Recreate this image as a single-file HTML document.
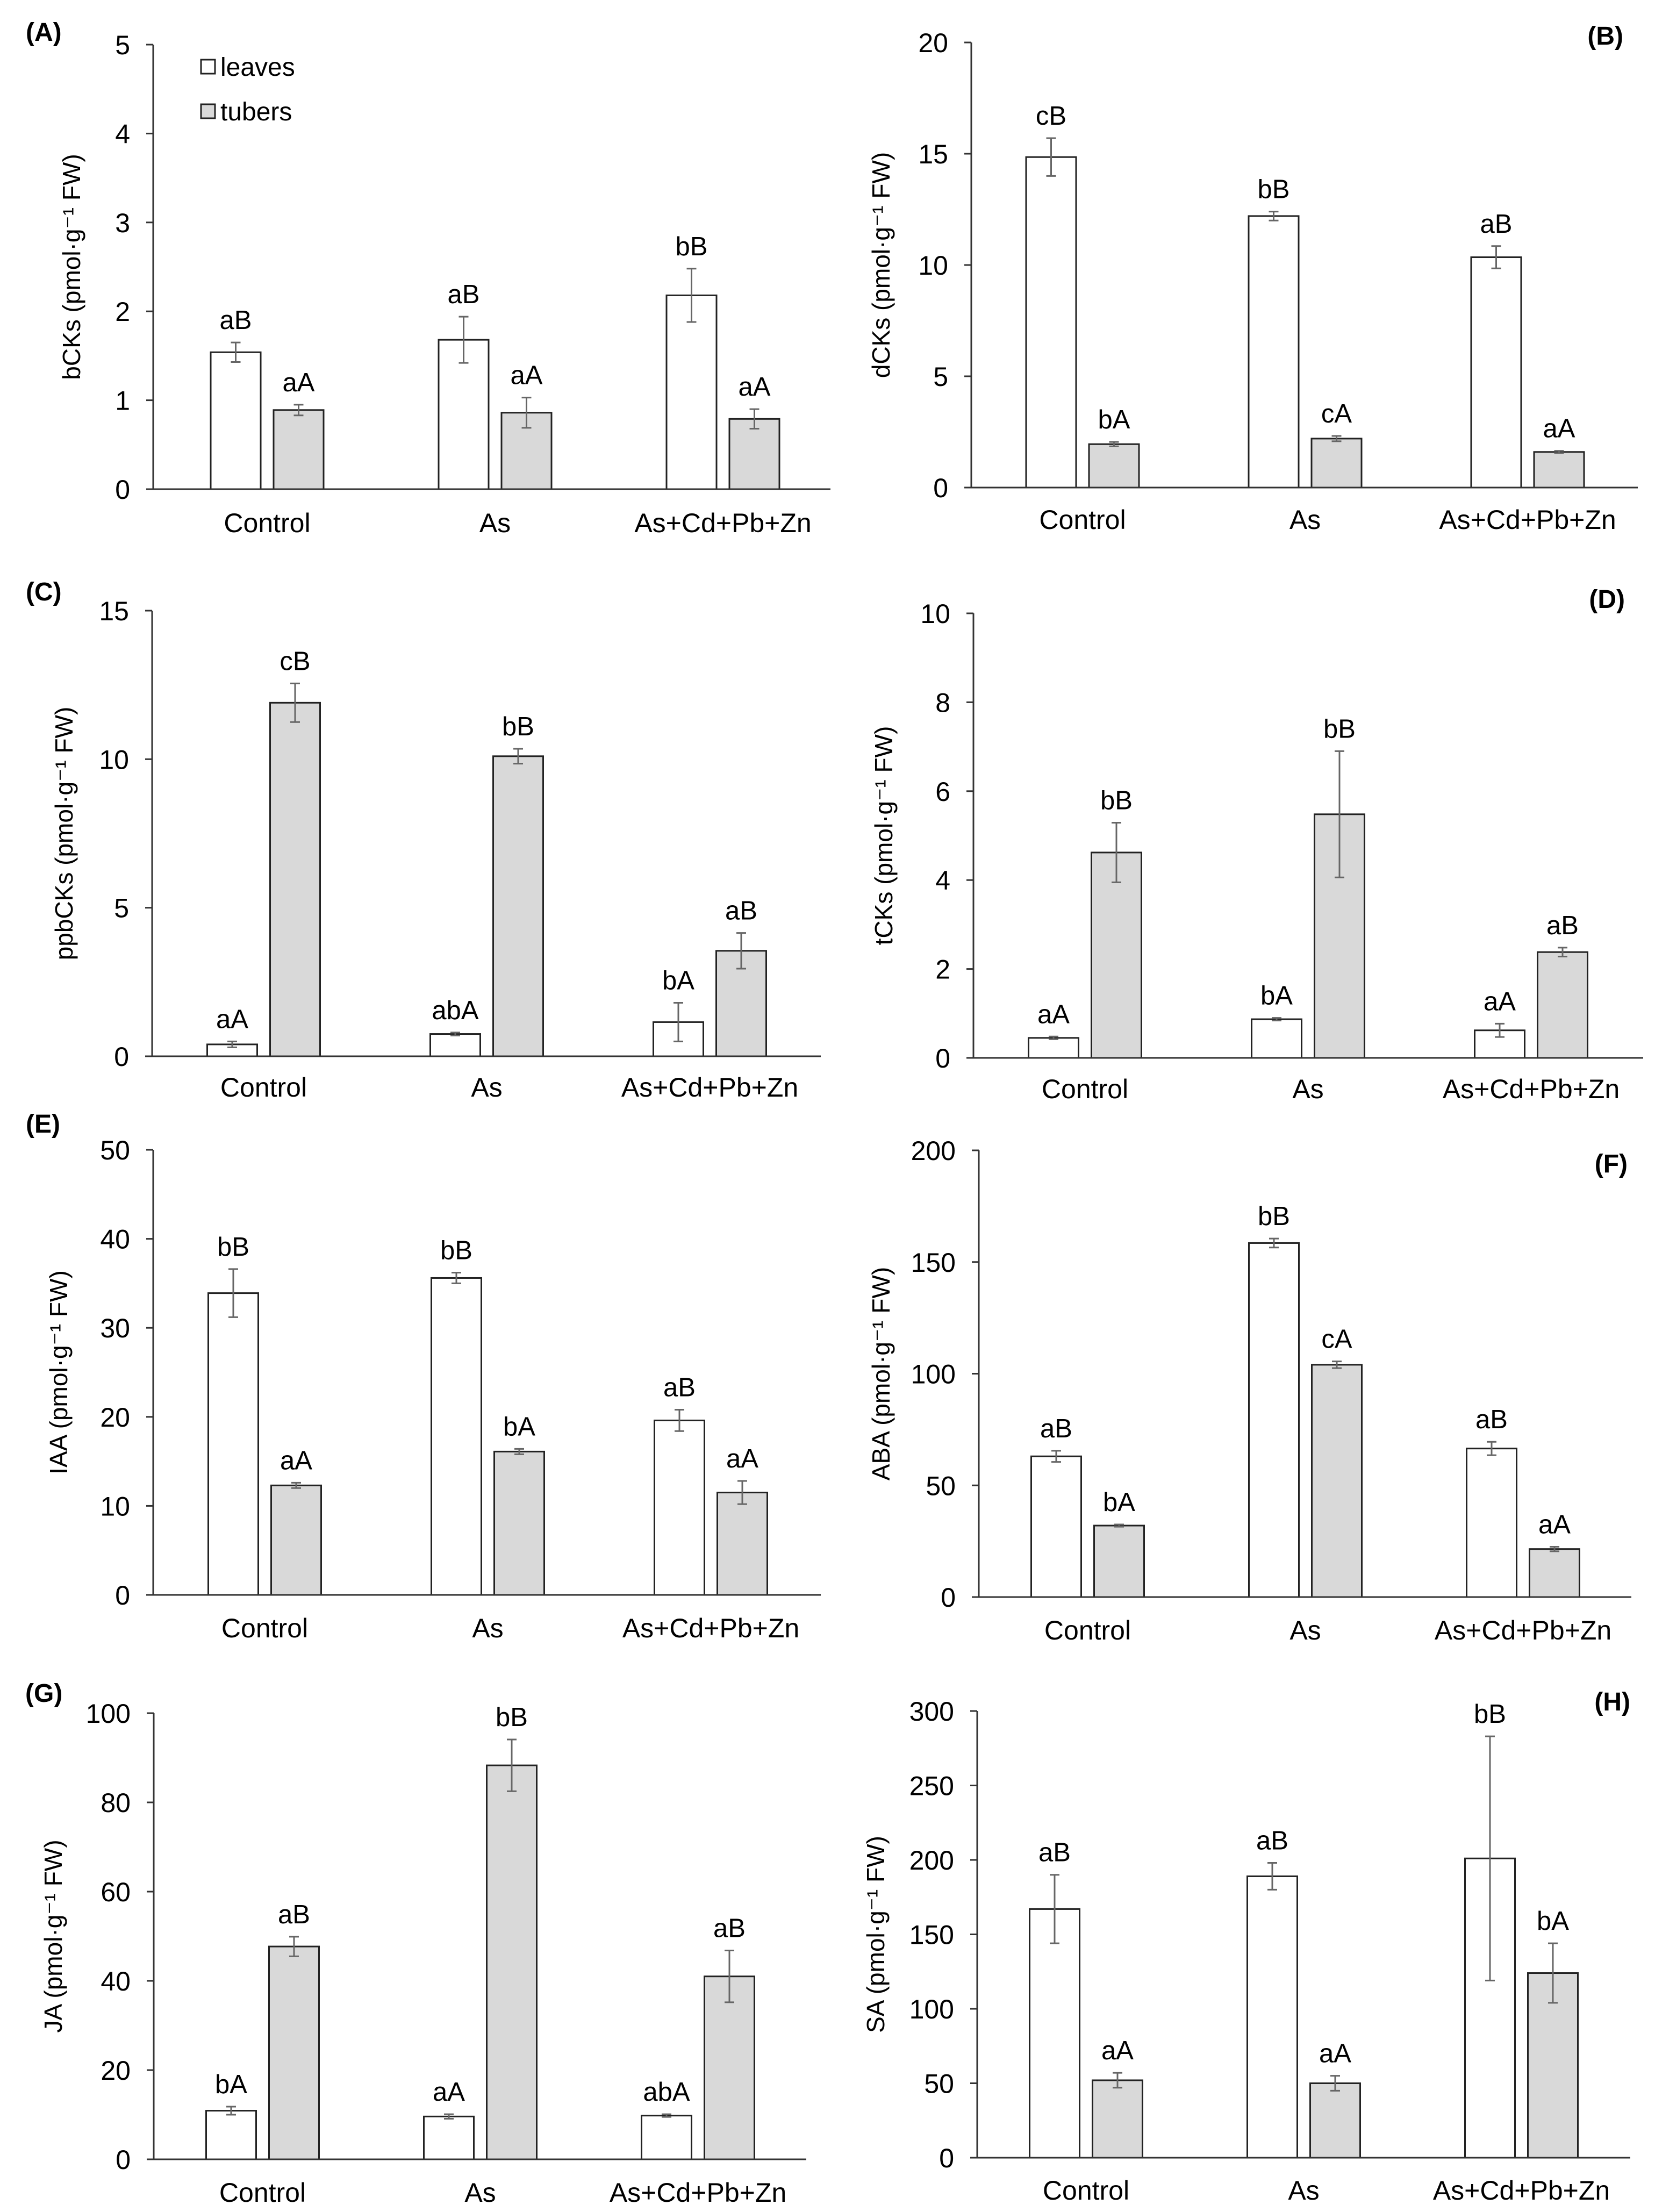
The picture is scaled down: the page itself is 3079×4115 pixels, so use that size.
<!DOCTYPE html>
<html><head><meta charset="utf-8">
<style>
html,body{margin:0;padding:0;background:#fff;}
svg{display:block;font-family:"Liberation Sans",Arial,sans-serif;}
</style></head>
<body>
<svg id="fig" width="3079" height="4115" viewBox="0 0 3079 4115" xmlns="http://www.w3.org/2000/svg">
<rect x="0" y="0" width="3079" height="4115" fill="#fff"/>
</svg>
<script>
const categories = ["Control", "As", "As+Cd+Pb+Zn"];
const seriesNames = ["leaves", "tubers"];

const bcksLeaves = [1.54, 1.68, 2.18];
const bcksLeavesErr = [0.11, 0.26, 0.30];
const bcksTubers = [0.89, 0.86, 0.79];
const bcksTubersErr = [0.06, 0.17, 0.11];
const bcksLetters = [["aB","aB","bB"],["aA","aA","aA"]];
const bcksTicks = [0,1,2,3,4,5];

const dcksLeaves = [14.85, 12.2, 10.35];
const dcksLeavesErr = [0.85, 0.2, 0.5];
const dcksTubers = [1.95, 2.2, 1.6];
const dcksTubersErr = [0.1, 0.12, 0.05];
const dcksLetters = [["cB","bB","aB"],["bA","cA","aA"]];
const dcksTicks = [0,5,10,15,20];

const ppbLeaves = [0.4, 0.75, 1.15];
const ppbLeavesErr = [0.1, 0.05, 0.65];
const ppbTubers = [11.9, 10.1, 3.55];
const ppbTubersErr = [0.65, 0.25, 0.6];
const ppbLetters = [["aA","abA","bA"],["cB","bB","aB"]];
const ppbTicks = [0,5,10,15];

const tcksLeaves = [0.45, 0.87, 0.62];
const tcksLeavesErr = [0.03, 0.03, 0.15];
const tcksTubers = [4.62, 5.48, 2.38];
const tcksTubersErr = [0.67, 1.42, 0.1];
const tcksLetters = [["aA","bA","aA"],["bB","bB","aB"]];
const tcksTicks = [0,2,4,6,8,10];

const iaaLeaves = [33.9, 35.6, 19.6];
const iaaLeavesErr = [2.7, 0.6, 1.2];
const iaaTubers = [12.3, 16.1, 11.5];
const iaaTubersErr = [0.3, 0.3, 1.3];
const iaaLetters = [["bB","bB","aB"],["aA","bA","aA"]];
const iaaTicks = [0,10,20,30,40,50];

const abaLeaves = [63, 158.5, 66.5];
const abaLeavesErr = [2.5, 2, 3];
const abaTubers = [32, 104, 21.5];
const abaTubersErr = [0.5, 1.5, 1];
const abaLetters = [["aB","bB","aB"],["bA","cA","aA"]];
const abaTicks = [0,50,100,150,200];

const jaLeaves = [10.9, 9.6, 9.8];
const jaLeavesErr = [0.9, 0.5, 0.3];
const jaTubers = [47.7, 88.3, 41];
const jaTubersErr = [2.2, 5.8, 5.8];
const jaLetters = [["bA","aA","abA"],["aB","bB","aB"]];
const jaTicks = [0,20,40,60,80,100];

const saLeaves = [167, 189, 201];
const saLeavesErr = [23, 9, 82];
const saTubers = [52, 50, 124];
const saTubersErr = [5, 5, 20];
const saLetters = [["aB","aB","bB"],["aA","aA","bA"]];
const saTicks = [0,50,100,150,200,250,300];

const NS = "http://www.w3.org/2000/svg";
const svg = document.getElementById("fig");
function mk(tag, attrs, parent) {
  const e = document.createElementNS(NS, tag);
  for (const k in attrs) e.setAttribute(k, attrs[k]);
  (parent || svg).appendChild(e);
  return e;
}

const panels = [
  {id:"a", tag:"(A)", ylab:"bCKs", lv:bcksLeaves, le:bcksLeavesErr, tv:bcksTubers, te:bcksTubersErr, let:bcksLetters, ticks:bcksTicks,
   x0:285, band:424, xEnd:1545, yTop:83, yZero:910, ylabOff:148, catY:972, tagX:48, tagY:59, tagAnchor:"start", legend:true},
  {id:"b", tag:"(B)", ylab:"dCKs", lv:dcksLeaves, le:dcksLeavesErr, tv:dcksTubers, te:dcksTubersErr, let:dcksLetters, ticks:dcksTicks,
   x0:1807, band:414, xEnd:3047, yTop:79, yZero:907, ylabOff:164, catY:966, tagX:3020, tagY:66, tagAnchor:"end"},
  {id:"c", tag:"(C)", ylab:"ppbCKs", lv:ppbLeaves, le:ppbLeavesErr, tv:ppbTubers, te:ppbTubersErr, let:ppbLetters, ticks:ppbTicks,
   x0:283, band:415, xEnd:1527, yTop:1136, yZero:1965, ylabOff:160, catY:2022, tagX:48, tagY:1100, tagAnchor:"start"},
  {id:"d", tag:"(D)", ylab:"tCKs", lv:tcksLeaves, le:tcksLeavesErr, tv:tcksTubers, te:tcksTubersErr, let:tcksLetters, ticks:tcksTicks,
   x0:1811, band:415, xEnd:3057, yTop:1141, yZero:1968, ylabOff:163, catY:2025, tagX:3023, tagY:1114, tagAnchor:"end"},
  {id:"e", tag:"(E)", ylab:"IAA", lv:iaaLeaves, le:iaaLeavesErr, tv:iaaTubers, te:iaaTubersErr, let:iaaLetters, ticks:iaaTicks,
   x0:285, band:415, xEnd:1527, yTop:2139, yZero:2967, ylabOff:172, catY:3028, tagX:48, tagY:2090, tagAnchor:"start"},
  {id:"f", tag:"(F)", ylab:"ABA", lv:abaLeaves, le:abaLeavesErr, tv:abaTubers, te:abaTubersErr, let:abaLetters, ticks:abaTicks,
   x0:1821, band:405, xEnd:3035, yTop:2140, yZero:2971, ylabOff:178, catY:3032, tagX:3028, tagY:2164, tagAnchor:"end"},
  {id:"g", tag:"(G)", ylab:"JA", lv:jaLeaves, le:jaLeavesErr, tv:jaTubers, te:jaTubersErr, let:jaLetters, ticks:jaTicks,
   x0:286, band:405, xEnd:1500, yTop:3187, yZero:4017, ylabOff:183, catY:4078, tagX:47, tagY:3149, tagAnchor:"start"},
  {id:"h", tag:"(H)", ylab:"SA", lv:saLeaves, le:saLeavesErr, tv:saTubers, te:saTubersErr, let:saLetters, ticks:saTicks,
   x0:1818, band:405, xEnd:3033, yTop:3183, yZero:4014, ylabOff:185, catY:4074, tagX:3033, tagY:3165, tagAnchor:"end"}
];

const BW = 93, GAP = 24;

panels.forEach(p => {
  const g = mk("g", {});
  
  
  const yMax = p.ticks[p.ticks.length - 1];
  const yScale = v => p.yZero - (v / yMax) * (p.yZero - p.yTop);
  const xCenter = i => p.x0 + p.band * (i + 0.5);

  const ya = mk("line", {x1:p.x0, y1:p.yTop, x2:p.x0, y2:p.yZero, stroke:"#333", "stroke-width":3}, g);
  
  
  p.ticks.forEach(t => {
    const y = yScale(t);
    const tk = mk("line", {x1:p.x0 - 13, y1:y, x2:p.x0, y2:y, stroke:"#333", "stroke-width":3}, g);
    
    
    const tl = mk("text", {x:p.x0 - 43, y:y + 18, "font-size":50, "text-anchor":"end", fill:"#000"}, g);
    tl.textContent = t;
    
    
  });
  const cy = (p.yTop + p.yZero) / 2, cx = p.x0 - p.ylabOff;
  const yt = mk("text", {x:cx, y:cy, "font-size":46, "text-anchor":"middle", "dominant-baseline":"middle",
    transform:`rotate(-90 ${cx} ${cy})`, fill:"#000"}, g);
  yt.textContent = p.ylab + " (pmol·g⁻¹ FW)";
  
  

  const series = [[p.lv, p.le, "#ffffff"], [p.tv, p.te, "#d9d9d9"]];
  series.forEach((s, si) => {
    s[0].forEach((v, i) => {
      const c = xCenter(i);
      const x = si === 0 ? c - GAP / 2 - BW : c + GAP / 2;
      const y = yScale(v);
      const r = mk("rect", {x:x, y:y, width:BW, height:p.yZero - y, fill:s[2], stroke:"#222", "stroke-width":3}, g);
      
      
      const bx = x + BW / 2;
      const yHi = yScale(v + s[1][i]), yLo = yScale(v - s[1][i]);
      const eb = mk("path", {d:`M${bx} ${yHi}V${yLo}M${bx - 9} ${yHi}H${bx + 9}M${bx - 9} ${yLo}H${bx + 9}`,
        stroke:"#666", "stroke-width":3, fill:"none"}, g);
      
      
      const lt = mk("text", {x:bx, y:yHi - 25, "font-size":49, "text-anchor":"middle", fill:"#000"}, g);
      lt.textContent = p.let[si][i];
      
      
    });
  });

  const xa = mk("line", {x1:p.x0, y1:p.yZero, x2:p.xEnd, y2:p.yZero, stroke:"#333", "stroke-width":3}, g);
  
  
  categories.forEach((c, i) => {
    const t = mk("text", {x:xCenter(i), y:p.catY + 18, "font-size":50, "text-anchor":"middle", fill:"#000"}, g);
    t.textContent = c;
    
    
  });

  const tg = mk("text", {x:p.tagX, y:p.tagY + 17, "font-size":48, "font-weight":"bold", "text-anchor":p.tagAnchor, fill:"#000"}, g);
  tg.textContent = p.tag;
  
  

  if (p.legend) {
    const lg = mk("g", {}, g);
    
    
    const fills = ["#ffffff", "#d9d9d9"], ys = [124, 207];
    seriesNames.forEach((n, k) => {
      const b = mk("rect", {x:374, y:ys[k] - 13, width:26, height:26, fill:fills[k], stroke:"#222", "stroke-width":3}, lg);
      
      
      const t = mk("text", {x:410, y:ys[k] + 17, "font-size":48, fill:"#000"}, lg);
      t.textContent = n;
      
      
    });
  }
});
</script>
</body></html>
